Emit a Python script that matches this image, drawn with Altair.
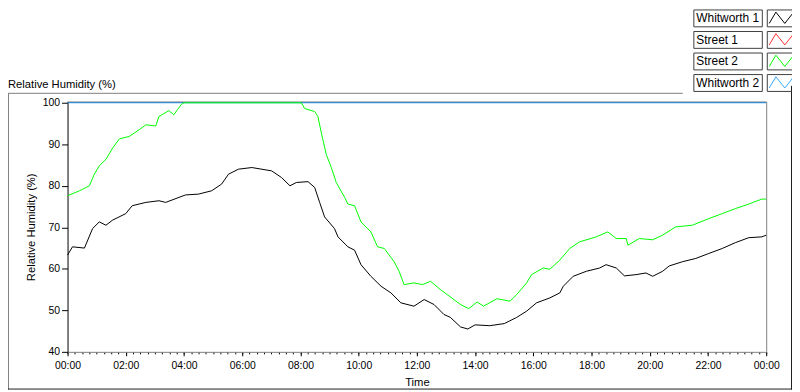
import altair as alt
import pandas as pd

SERIES = ["Whitworth 1", "Street 1", "Street 2", "Whitworth 2"]
COLORS = ["#000000", "#ff3030", "#00ff00", "#3aa8ff"]
CHART_LABEL = "Relative Humidity (%)"

w1_hour = [0.0, 0.17, 0.58, 0.86, 1.09, 1.32, 1.54, 2.0, 2.22, 2.69, 3.14, 3.37, 4.05, 4.5,
           4.95, 5.29, 5.53, 5.87, 6.33, 7.01, 7.35, 7.64, 7.86, 8.26, 8.49, 8.66, 8.83,
           9.17, 9.29, 9.63, 9.86, 10.08, 10.42, 10.77, 11.11, 11.45, 11.9, 12.25, 12.59,
           12.93, 13.15, 13.5, 13.75, 14.0, 14.5, 15.0, 15.43, 15.77, 16.11, 16.57, 16.91,
           17.03, 17.37, 17.82, 18.28, 18.5, 18.85, 19.13, 19.53, 19.87, 20.1, 20.44, 20.67,
           21.12, 21.58, 22.03, 22.49, 22.94, 23.4, 23.85, 24.0]
w1_rh = [63.3, 65.3, 65.0, 69.7, 71.3, 70.5, 71.7, 73.3, 75.2, 76.0, 76.4, 76.0, 77.8, 78.0,
         78.8, 80.4, 82.8, 84.0, 84.4, 83.6, 82.0, 80.0, 80.8, 81.0, 79.6, 76.0, 72.5,
         69.7, 67.7, 65.3, 64.5, 61.0, 58.2, 55.8, 54.2, 51.8, 51.0, 52.6, 51.4,
         49.0, 48.3, 46.0, 45.5, 46.5, 46.3, 46.8, 48.3, 49.8, 51.8, 53.0, 54.2,
         55.8, 58.2, 59.4, 60.2, 61.0, 60.2, 58.3, 58.6, 59.0, 58.2, 59.4, 60.7,
         61.7, 62.5, 63.7, 64.9, 66.3, 67.5, 67.7, 68.1]

s2_hour = [0.0, 0.41, 0.75, 0.92, 1.09, 1.32, 1.55, 1.78, 2.12, 2.46, 2.69, 3.03, 3.14, 3.48,
           3.65, 3.77, 3.92, 4.0, 8.03, 8.15, 8.49, 8.6, 8.72, 8.89, 9.06, 9.23, 9.52, 9.63,
           9.86, 10.08, 10.42, 10.65, 10.88, 11.22, 11.39, 11.56, 11.9, 12.19, 12.47, 12.81,
           13.04, 13.5, 13.78, 14.07, 14.29, 14.75, 15.2, 15.43, 15.77, 15.94, 16.34, 16.57,
           16.91, 17.25, 17.59, 18.16, 18.56, 18.85, 19.19, 19.25, 19.64, 20.1, 20.44, 20.89,
           21.46, 22.03, 22.49, 22.94, 23.4, 23.85, 24.0]
s2_rh = [77.6, 78.8, 80.0, 82.8, 84.8, 86.4, 89.1, 91.3, 91.9, 93.5, 94.7, 94.4, 96.7, 98.1,
         97.1, 98.3, 99.7, 100.0, 100.0, 98.6, 97.9, 96.7, 92.7, 87.5, 84.4, 80.8, 77.2, 75.6,
         75.2, 71.3, 68.9, 65.3, 64.9, 61.7, 59.4, 56.2, 56.6, 56.2, 57.0, 55.0,
         53.8, 51.4, 50.4, 52.0, 51.0, 52.8, 52.2, 53.8, 56.6, 58.6, 60.2, 59.9,
         62.1, 64.9, 66.5, 67.7, 68.9, 67.3, 67.3, 65.7, 67.3, 67.0, 68.1, 70.1,
         70.5, 72.1, 73.3, 74.5, 75.6, 76.8, 76.8]

w2_hour = [0.0, 24.0]
w2_rh = [100.0, 100.0]

Y_TICKS = [40, 50, 60, 70, 80, 90, 100]
X_TICKS = list(range(0, 25, 2))
X_MINOR = [i * 0.25 for i in range(97)]

rows = []
for name, hs, vs in [("Whitworth 2", w2_hour, w2_rh), ("Whitworth 1", w1_hour, w1_rh),
                     ("Street 2", s2_hour, s2_rh)]:
    for h, v in zip(hs, vs):
        rows.append({"series": name, "hour": h, "rh": v})
df = pd.DataFrame(rows)

W, H = 704, 252
FONT = "Liberation Sans"
# zigzag glyph; the leading moves give it the same vertical extent as the boxes
ZIG = "M0,-0.944M0,0.944M-1.338,0.56L-0.591,-0.7L0.404,0.56L1.338,-0.622"
BOX = "M-9.778,-0.944H-2.111V0.944H-9.778Z M-1.556,-0.944H1.556V0.944H-1.556Z"
SYM = 324
LEG_X, LEG_Y = 709.6, -93.5
ROW_PAD = 0.7

time_label = "(datum.value % 24 < 10 ? '0' : '') + (datum.value % 24) + ':00'"

x_scale = alt.Scale(domain=[0, 24], nice=False)

lines = alt.Chart(df).mark_line(strokeWidth=1).encode(
    x=alt.X("hour:Q", scale=x_scale,
            axis=alt.Axis(orient="bottom", values=X_TICKS, labelExpr=time_label,
                          title="Time", tickSize=4, labelPadding=5,
                          domainColor="#808080", tickColor="#000000",
                          labelColor="#000000", labelFont=FONT, labelFontSize=10.5,
                          labelFlush=False, grid=False, titleFont=FONT,
                          titleFontSize=11.3, titleFontWeight="normal",
                          titleColor="#000000", titleY=31, titleBaseline="middle")),
    y=alt.Y("rh:Q", scale=alt.Scale(domain=[40, 100.25], nice=False, zero=False),
            axis=alt.Axis(values=Y_TICKS, title="Relative Humidity (%)", tickSize=6,
                          labelPadding=2, domainColor="#000000", tickColor="#000000",
                          labelColor="#000000", labelFont=FONT, labelFontSize=10.5,
                          grid=False, titleFont=FONT, titleFontSize=11.3,
                          titleFontWeight="normal", titleColor="#000000",
                          titleX=-36.5, titleY=H / 2, titleBaseline="middle")),
    color=alt.Color("series:N", scale=alt.Scale(domain=SERIES, range=COLORS),
                    legend=alt.Legend(orient="none", legendX=LEG_X, legendY=LEG_Y,
                                      title=None, symbolType=ZIG, symbolSize=SYM,
                                      symbolStrokeWidth=1, symbolFillColor="transparent",
                                      labelFont=FONT, labelFontSize=12,
                                      labelColor="#000000", labelAlign="left",
                                      labelBaseline="middle",
                                      labelOffset={"expr": "-95"},
                                      rowPadding=ROW_PAD, padding=0, symbolOffset=0)),
)

minor = alt.Chart(df).transform_filter("false").mark_point().encode(
    x=alt.X("hour:Q", scale=x_scale,
            axis=alt.Axis(orient="bottom", values=X_MINOR, labels=False, domain=False,
                          tickSize=2, tickColor="#000000", grid=False, title=None)),
)

box_names = [s + " box" for s in SERIES]
box_df = pd.DataFrame({"box": box_names})
boxes = alt.Chart(box_df).transform_filter("false").mark_point(
    filled=False, color="#404040", opacity=1).encode(
    shape=alt.Shape("box:N", scale=alt.Scale(domain=box_names, range=[BOX] * 4),
                    legend=alt.Legend(orient="none", legendX=LEG_X, legendY=LEG_Y,
                                      title=None, symbolSize=SYM, symbolStrokeWidth=1,
                                      symbolStrokeColor="#404040",
                                      symbolFillColor="transparent", symbolOpacity=1,
                                      labelExpr="''", labelFontSize=12,
                                      rowPadding=ROW_PAD, padding=0, symbolOffset=0)),
)

deco = pd.DataFrame({"k": [0]})
def rule(color, **enc):
    return alt.Chart(deco).mark_rule(color=color, strokeWidth=1).encode(
        **{k: alt.value(v) for k, v in enc.items()})

label = alt.Chart(pd.DataFrame({"t": [CHART_LABEL]})).mark_text(
    align="left", baseline="alphabetic", font=FONT, fontSize=11.3, color="#000000"
).encode(text="t:N", x=alt.value(-60), y=alt.value(-14))

layers = [
    rule("#000000", x=0, x2=W, y=0.5),
    rule("#808080", x=W + 0.5, y=0, y2=H),
    rule("#808080", x=-60, x2=620, y=-8.5),
    rule("#808080", x=-59.5, y=-8.5, y2=290),
    rule("#1e1e1e", x=-60, x2=730, y=289.5),
    rule("#1e1e1e", x=729.5, y=-16, y2=290),
    label,
    minor,
    lines,
    boxes,
]

chart = alt.layer(*layers).resolve_axis(x="independent").properties(
    width=W, height=H,
    autosize=alt.AutoSizeParams(type="none"),
    padding={"left": 60, "top": 93, "right": 26, "bottom": 39},
    background="white",
).configure_view(stroke=None).configure_legend(rowPadding=ROW_PAD)

chart.save("out.html", embed_options={"renderer": "svg", "actions": False})
